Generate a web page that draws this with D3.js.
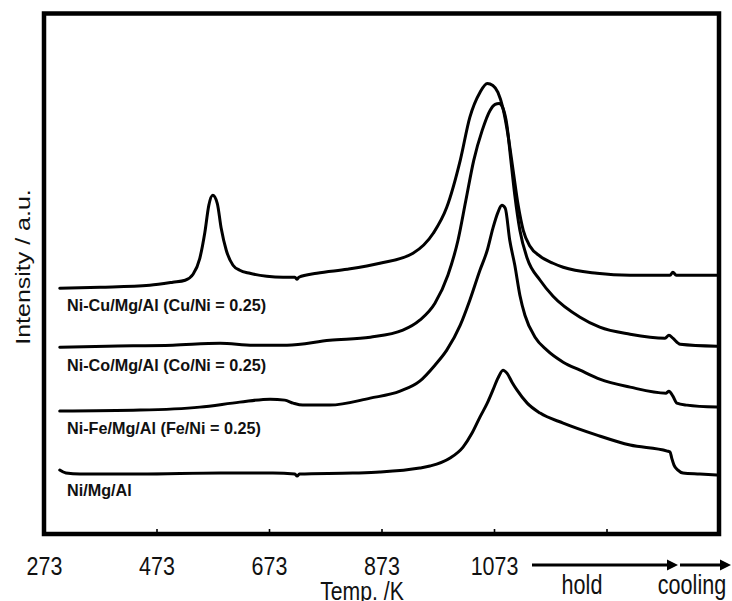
<!DOCTYPE html>
<html>
<head>
<meta charset="utf-8">
<script src="https://cdn.jsdelivr.net/npm/d3@7/dist/d3.min.js"></script>
<style>
  html, body { margin: 0; padding: 0; background: #fff; }
  svg { display: block; }
</style>
</head>
<body>
<svg id="chart" width="732" height="601"></svg>
<script>
// ---------- DATA (t: axis position in K-equivalent units, v: intensity a.u.) ----------
const seriesNames = [
  "Ni-Cu/Mg/Al (Cu/Ni = 0.25)",
  "Ni-Co/Mg/Al (Co/Ni = 0.25)",
  "Ni-Fe/Mg/Al (Fe/Ni = 0.25)",
  "Ni/Mg/Al"
];

const cuT = [301,373,461,502,524,538,550,559,566,573,581,588,597,609,621,639,669,698,719,723,726,758,812,870,929,965,989,1013,1030,1048,1061,1071,1080,1089,1098,1107,1116,1125,1137,1155,1178,1196,1256,1315,1386,1391,1397,1469];
const cuV = [24.6,24.7,24.9,25.2,25.4,26.0,27.6,30.2,32.9,33.9,33.1,30.6,28.4,26.9,26.4,26.1,25.8,25.7,25.7,25.5,25.7,26.1,26.5,27.1,28.1,30.1,32.7,37.4,41.7,44.2,45.1,44.9,44.2,42.6,39.9,36.4,32.9,30.4,28.8,27.8,27.1,26.7,26.1,25.9,25.9,26.2,25.9,25.9];

const coT = [301,385,502,586,645,705,781,853,911,941,968,991,1009,1023,1037,1052,1066,1075,1082,1089,1096,1103,1110,1119,1132,1155,1178,1226,1261,1315,1377,1384,1391,1404,1469];
const coV = [18.7,18.8,18.9,19.1,18.9,18.9,19.4,19.7,20.4,21.4,23.1,25.9,29.4,33.4,37.4,40.4,42.4,43.0,43.1,42.6,40.9,37.4,33.9,30.4,27.6,25.4,23.8,21.7,20.7,20.0,19.6,19.9,19.6,19.0,18.8];

const feT = [301,444,550,621,675,701,716,733,781,853,906,941,968,989,1013,1030,1048,1061,1071,1080,1087,1093,1101,1110,1119,1128,1146,1167,1196,1226,1261,1315,1379,1384,1391,1398,1416,1469];
const feV = [12.3,12.4,12.7,13.2,13.5,13.4,13.1,12.9,12.9,13.6,14.3,15.3,16.9,18.4,20.9,23.4,26.4,28.4,30.6,32.2,32.9,32.6,29.4,26.9,23.9,21.9,19.7,18.4,17.2,16.4,15.5,14.7,14.1,14.3,13.8,13.1,12.9,12.7];

const niT = [301,312,337,444,586,680,719,723,727,822,870,941,959,995,1018,1034,1048,1061,1071,1080,1089,1096,1105,1114,1132,1155,1196,1256,1315,1381,1386,1389,1393,1400,1409,1439,1469];
const niV = [6.4,6.1,6.0,6.0,6.1,6.1,6.0,5.8,6.0,6.1,6.2,6.6,6.8,7.6,8.7,10.1,11.7,13.1,14.4,15.6,16.4,16.1,15.2,14.4,13.1,12.1,11.1,9.9,8.9,8.3,8.2,7.6,6.9,6.4,6.1,6.0,5.9];

const tickValues = [273, 473, 673, 873, 1073, 1273];
const tickLabels = ["273", "473", "673", "873", "1073", ""];
const xTitle = "Temp. /K";
const yTitle = "Intensity / a.u.";
const phaseLabels = ["hold", "cooling"];

// ---------- LAYOUT ----------
const svg = d3.select("#chart");
const frame = { left: 44, right: 719, top: 13.5, bottom: 534 };
const x = d3.scaleLinear().domain([273, 1473]).range([frame.left, frame.right]);
const y = d3.scaleLinear().domain([0, 52.1]).range([frame.bottom, frame.top]);
const FONT = "'Liberation Sans', Arial, Helvetica, sans-serif";

const series = [
  { name: seriesNames[0], t: cuT, v: cuV, ly: 311 },
  { name: seriesNames[1], t: coT, v: coV, ly: 371 },
  { name: seriesNames[2], t: feT, v: feV, ly: 434 },
  { name: seriesNames[3], t: niT, v: niV, ly: 496 }
];

const line = d3.line()
  .x(d => x(d[0]))
  .y(d => y(d[1]))
  .curve(d3.curveMonotoneX);

svg.append("g").selectAll("path")
  .data(series)
  .join("path")
  .attr("d", s => line(s.t.map((t, i) => [t, s.v[i]])))
  .attr("fill", "none")
  .attr("stroke", "#000")
  .attr("stroke-width", 3)
  .attr("stroke-linejoin", "round")
  .attr("stroke-linecap", "round");

// series labels
svg.append("g").selectAll("text")
  .data(series)
  .join("text")
  .attr("x", 67)
  .attr("y", s => s.ly)
  .attr("font-family", FONT)
  .attr("font-weight", "bold")
  .attr("font-size", 16.2)
  .attr("fill", "#111")
  .text(s => s.name);

// bottom axis (inward ticks)
const axis = d3.axisBottom(x)
  .tickValues(tickValues)
  .tickSize(-5)
  .tickFormat((d, i) => tickLabels[i]);

const ax = svg.append("g")
  .attr("transform", `translate(0,${frame.bottom})`)
  .call(axis);
ax.select(".domain").remove();
ax.selectAll(".tick line").attr("stroke", "#000").attr("stroke-width", 1.6);
ax.selectAll(".tick text")
  .attr("x", 0)
  .attr("y", 41)
  .attr("dy", 0)
  .attr("font-family", FONT)
  .attr("font-size", 26.5)
  .attr("fill", "#111")
  .attr("transform", "scale(0.81,1)");

// frame
svg.append("rect")
  .attr("x", frame.left)
  .attr("y", frame.top)
  .attr("width", frame.right - frame.left)
  .attr("height", frame.bottom - frame.top)
  .attr("fill", "none")
  .attr("stroke", "#000")
  .attr("stroke-width", 4.5);

// x title
svg.append("text")
  .attr("transform", "translate(362,600) scale(0.8,1)")
  .attr("text-anchor", "middle")
  .attr("font-family", FONT)
  .attr("font-size", 26.5)
  .attr("fill", "#111")
  .text(xTitle);

// y title
svg.append("text")
  .attr("transform", "translate(30,267) rotate(-90) scale(1,0.8)")
  .attr("text-anchor", "middle")
  .attr("font-family", FONT)
  .attr("font-size", 25)
  .attr("fill", "#111")
  .text(yTitle);

// hold / cooling arrows
const arrowY = 565;
function arrow(x1, x2) {
  svg.append("line")
    .attr("x1", x1).attr("x2", x2 - 8)
    .attr("y1", arrowY).attr("y2", arrowY)
    .attr("stroke", "#000").attr("stroke-width", 3);
  svg.append("path")
    .attr("d", `M${x2},${arrowY} L${x2 - 11},${arrowY - 5.5} L${x2 - 11},${arrowY + 5.5} Z`)
    .attr("fill", "#000");
}
arrow(532, 678);
arrow(680, 731);

svg.append("text")
  .attr("transform", "translate(582,594) scale(0.8,1)")
  .attr("text-anchor", "middle")
  .attr("font-family", FONT)
  .attr("font-size", 27)
  .attr("fill", "#111")
  .text(phaseLabels[0]);
svg.append("text")
  .attr("transform", "translate(692,594) scale(0.8,1)")
  .attr("text-anchor", "middle")
  .attr("font-family", FONT)
  .attr("font-size", 27)
  .attr("fill", "#111")
  .text(phaseLabels[1]);
</script>
</body>
</html>
